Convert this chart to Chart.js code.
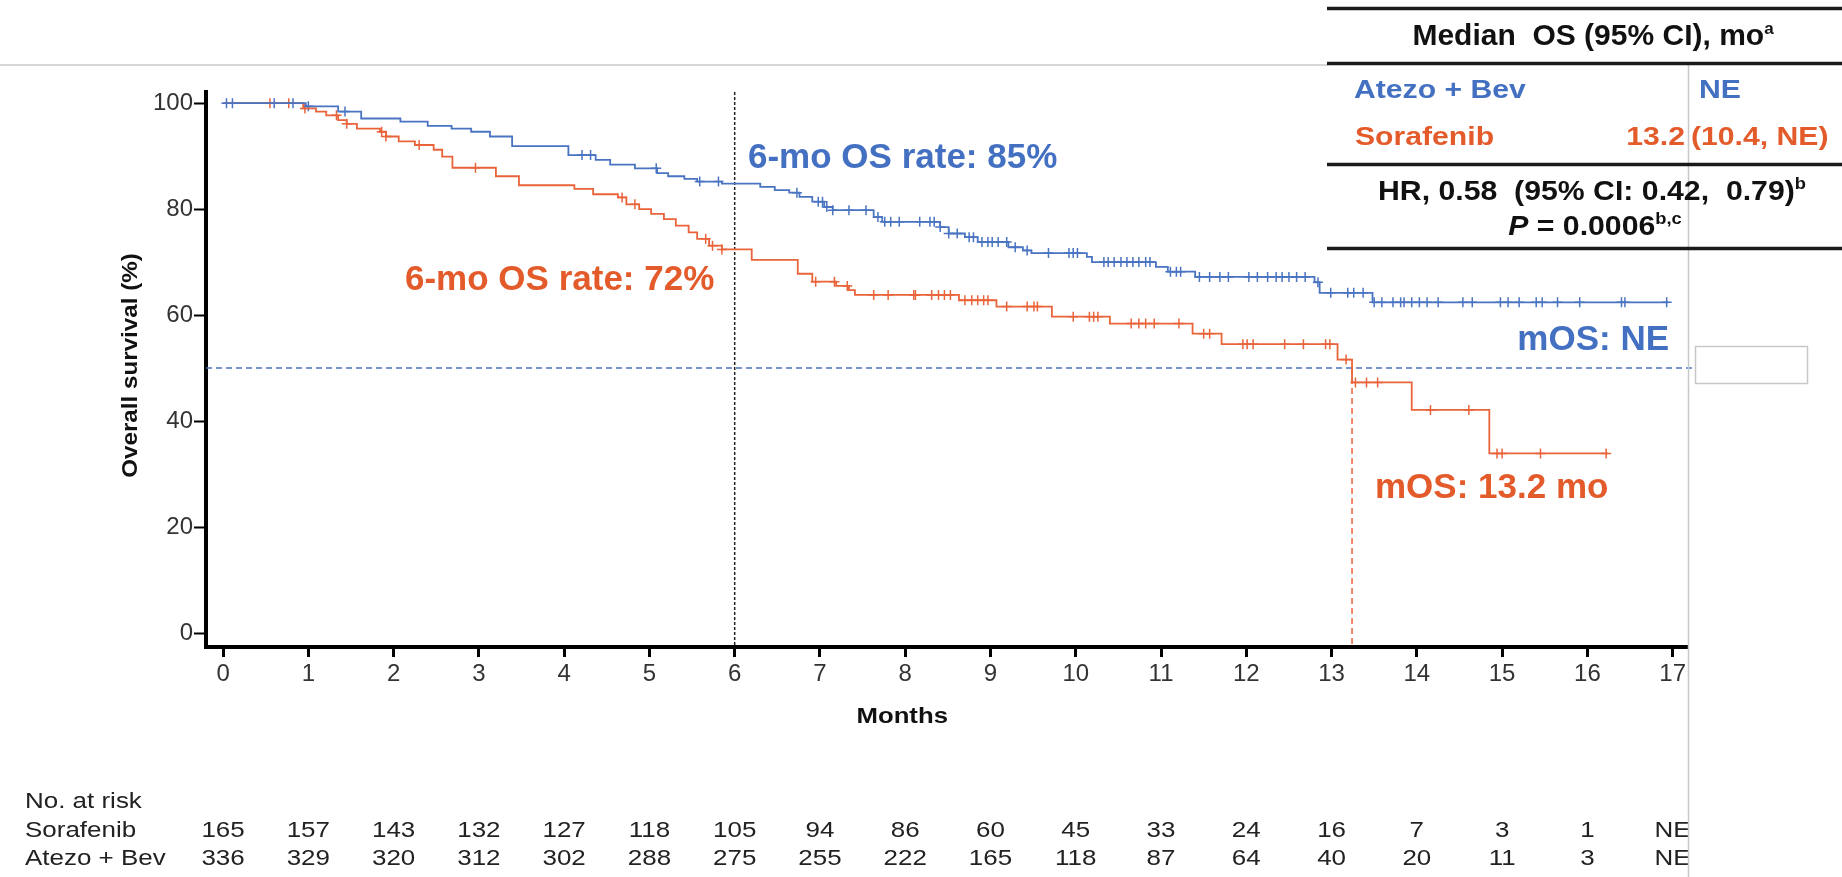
<!DOCTYPE html>
<html>
<head>
<meta charset="utf-8">
<title>Overall survival</title>
<script src="https://cdn.jsdelivr.net/npm/chart.js@4.4.1/dist/chart.umd.min.js"></script>
<style>
  html, body { margin: 0; padding: 0; background: #fff; }
  #wrap { width: 1842px; height: 877px; position: relative; }
</style>
</head>
<body>
<div id="wrap"><canvas id="osChart" width="1842" height="877"></canvas></div>
<script>
// ---- data ----
const monthTicks = [0, 1, 2, 3, 4, 5, 6, 7, 8, 9, 10, 11, 12, 13, 14, 15, 16, 17];
const survivalTicks = [0, 20, 40, 60, 80, 100];

// Atezo + Bev: time of each step (months) and survival after it (%)
const atezoTimes = [0, 0.97, 1.35, 1.62, 2.08, 2.40, 2.68, 2.91, 3.13, 3.39, 4.05, 4.37, 4.54, 4.83, 5.09, 5.22, 5.41, 5.56, 5.85,
    6.30, 6.47, 6.64, 6.76, 6.91, 7.05, 7.15, 7.63, 7.73, 8.41, 8.51, 8.70, 8.85, 9.21, 9.38, 9.48, 10.13, 10.19, 10.94, 11.08,
    11.40, 12.80, 12.86, 13.48, 16.95];
const atezoSurv = [100, 99.4, 98.4, 97.1, 96.5, 95.7, 95.2, 94.6, 93.7, 91.9, 90.2, 89.3, 88.4, 87.7, 86.8, 86.2, 85.7, 85.2, 84.8,
    84.2, 83.6, 83.1, 82.3, 81.4, 80.4, 79.8, 78.5, 77.6, 76.6, 75.4, 74.7, 73.8, 72.8, 72.2, 71.7, 71.0, 70.0, 69.1, 68.2,
    67.2, 66.2, 64.2, 62.4, 62.4];

// Sorafenib
const sorafenibTimes = [0, 0.94, 1.09, 1.21, 1.35, 1.45, 1.57, 1.84, 1.91, 2.06, 2.25, 2.47, 2.57, 2.69, 3.20, 3.47, 4.12, 4.34,
    4.63, 4.73, 4.88, 5.02, 5.17, 5.31, 5.46, 5.56, 5.70, 5.85, 6.20, 6.74, 6.91, 7.19, 7.34, 7.41, 8.63, 9.07, 9.72, 10.40,
    11.37, 11.71, 13.07, 13.24, 13.94, 14.85, 16.24];
const sorafenibSurv = [100, 99.0, 98.4, 97.7, 96.8, 96.1, 95.2, 94.6, 93.7, 92.8, 92.1, 91.2, 89.9, 87.8, 86.2, 84.5, 83.8, 82.8,
    82.2, 80.9, 80.0, 79.1, 78.1, 76.9, 75.6, 74.4, 73.1, 72.4, 70.4, 67.8, 66.3, 65.5, 64.7, 63.8, 62.8, 61.6, 59.7, 58.4,
    56.5, 54.5, 51.6, 47.3, 42.1, 33.9, 33.9];

// censored patients (months)
const atezoCensored = [0.04, 0.11, 0.60, 0.82, 1.00, 1.43, 4.21, 4.31, 5.08, 5.59, 5.81, 6.73, 6.98, 7.03, 7.08, 7.15, 7.34,
    7.54, 7.68, 7.76, 7.83, 7.93, 8.17, 8.29, 8.34, 8.41, 8.51, 8.61, 8.75, 8.80, 8.90, 8.97, 9.02, 9.09, 9.19, 9.29, 9.43,
    9.68, 9.92, 9.97, 10.02, 10.33, 10.38, 10.45, 10.53, 10.60, 10.67, 10.74, 10.82, 10.87, 11.11, 11.18, 11.23, 11.45, 11.57,
    11.69, 11.79, 12.03, 12.13, 12.25, 12.35, 12.42, 12.50, 12.59, 12.69, 12.84, 12.99, 13.19, 13.26, 13.37, 13.50, 13.59,
    13.72, 13.81, 13.85, 13.94, 14.03, 14.12, 14.25, 14.54, 14.65, 14.98, 15.07, 15.20, 15.40, 15.47, 15.65, 15.91, 16.40,
    16.44, 16.93];
const sorafenibCensored = [0.55, 0.77, 0.96, 1.33, 1.45, 1.86, 1.91, 2.30, 2.96, 4.68, 4.83, 5.66, 5.74, 5.85, 6.95, 7.17, 7.32,
    7.63, 7.80, 8.10, 8.12, 8.31, 8.39, 8.46, 8.53, 8.70, 8.78, 8.85, 8.92, 8.97, 9.19, 9.43, 9.51, 9.55, 9.97, 10.16, 10.21,
    10.26, 10.65, 10.74, 10.82, 10.92, 11.21, 11.50, 11.57, 11.96, 12.01, 12.08, 12.45, 12.67, 12.93, 12.98, 13.17, 13.28,
    13.41, 13.54, 14.16, 14.61, 14.94, 15.00, 15.45, 16.22];

// number at risk under each month tick
const sorafenibAtRisk = [165, 157, 143, 132, 127, 118, 105, 94, 86, 60, 45, 33, 24, 16, 7, 3, 1, "NE"];
const atezoAtRisk = [336, 329, 320, 312, 302, 288, 275, 255, 222, 165, 118, 87, 64, 40, 20, 11, 3, "NE"];

// reference values
const landmarkMonth = 6;
const medianSurvival = 50;
const sorafenibMedian = 13.24;

const FONT = "'Liberation Sans', Arial, sans-serif";
const BLUE = "#4a74c2";
const ORANGE = "#e9643a";
const BLUE_TEXT = "#4470c2";
const ORANGE_TEXT = "#e45b2b";

const xMin = -0.2, xMax = 17.18;
const yMin = -2.64, yMax = 102.1;

// step lookup: survival level at a censoring time
function survivalAt(times, surv, t) {
    let s = surv[0];
    for (let i = 0; i < times.length; i++) {
        if (times[i] <= t) s = surv[i];
    }
    return s;
}

function toPoints(times, surv) {
    return times.map((t, i) => ({ x: t, y: surv[i] }));
}

function censorPoints(censored, times, surv) {
    return censored.map(t => ({ x: t, y: survivalAt(times, surv, t) }));
}

// draws a run of text pieces (for superscripts), optionally stretched horizontally
function drawRuns(ctx, runs, x, y, align, sx) {
    sx = sx || 1;
    let widths = runs.map(r => { ctx.font = r.font; return ctx.measureText(r.text).width; });
    let total = widths.reduce((a, b) => a + b, 0) * sx;
    let start = align === "center" ? x - total / 2 : align === "right" ? x - total : x;
    ctx.save();
    ctx.translate(start, y);
    ctx.scale(sx, 1);
    ctx.textBaseline = "middle";
    ctx.textAlign = "left";
    let cx = 0;
    runs.forEach((r, i) => {
        ctx.font = r.font;
        ctx.fillStyle = r.color;
        ctx.fillText(r.text, cx, r.dy || 0);
        cx += widths[i];
    });
    ctx.restore();
}

function text(ctx, str, x, y, font, color, align, sx) {
    drawRuns(ctx, [{ text: str, font: font, color: color }], x, y, align, sx);
}

function hLine(ctx, x1, x2, y, color, width) {
    ctx.save();
    ctx.strokeStyle = color;
    ctx.lineWidth = width;
    ctx.beginPath();
    ctx.moveTo(x1, y);
    ctx.lineTo(x2, y);
    ctx.stroke();
    ctx.restore();
}

function vLine(ctx, x, y1, y2, color, width) {
    ctx.save();
    ctx.strokeStyle = color;
    ctx.lineWidth = width;
    ctx.beginPath();
    ctx.moveTo(x, y1);
    ctx.lineTo(x, y2);
    ctx.stroke();
    ctx.restore();
}

const decorPlugin = {
    id: "decor",
    beforeDatasetsDraw(chart) {
        const ctx = chart.ctx;
        const xs = chart.scales.x;
        const area = chart.chartArea;

        // axis titles
        text(ctx, "Months", xs.getPixelForValue(8) - 3, 717, "bold 22px " + FONT, "#111", "center", 1.17);
        ctx.save();
        ctx.translate(131, (area.top + area.bottom) / 2 - 4);
        ctx.rotate(-Math.PI / 2);
        text(ctx, "Overall survival (%)", 0, 0, "bold 22px " + FONT, "#111", "center", 1.1);
        ctx.restore();

        // number at risk table
        const rf = "22px " + FONT;
        text(ctx, "No. at risk", 25, 802, rf, "#222", "left", 1.18);
        text(ctx, "Sorafenib", 25, 831, rf, "#222", "left", 1.18);
        text(ctx, "Atezo + Bev", 25, 859, rf, "#222", "left", 1.18);
        monthTicks.forEach((m, i) => {
            const px = xs.getPixelForValue(m);
            text(ctx, String(sorafenibAtRisk[i]), px, 831, rf, "#222", "center", 1.18);
            text(ctx, String(atezoAtRisk[i]), px, 859, rf, "#222", "center", 1.18);
        });

        // blank panel on the right of the slide
        ctx.save();
        ctx.fillStyle = "#fff";
        ctx.fillRect(area.right + 1, 66, chart.width - area.right - 1, chart.height - 66);
        ctx.restore();
    },
    afterDraw(chart) {
        const ctx = chart.ctx;
        const area = chart.chartArea;

        // light slide rules
        hLine(ctx, 0, 1327, 65, "#c8c8c8", 1.5);
        vLine(ctx, area.right + 0.5, 64, chart.height, "#c8c8c8", 1.5);

        // empty box at the end of the median line
        ctx.save();
        ctx.strokeStyle = "#c8c8c8";
        ctx.lineWidth = 1.5;
        ctx.strokeRect(1695.5, 346.5, 112, 37);
        ctx.restore();

        // annotations
        const big = "bold 35px " + FONT;
        text(ctx, "6-mo OS rate: 85%", 748, 158, big, BLUE_TEXT, "left");
        text(ctx, "6-mo OS rate: 72%", 405, 280, big, ORANGE_TEXT, "left");
        text(ctx, "mOS: NE", 1669, 340, big, BLUE_TEXT, "right");
        text(ctx, "mOS: 13.2 mo", 1375, 488, big, ORANGE_TEXT, "left");

        // median OS table
        const tl = 1327, tr = chart.width;
        hLine(ctx, tl, tr, 8.5, "#1a1a1a", 3.5);
        hLine(ctx, tl, tr, 63.5, "#1a1a1a", 3.5);
        hLine(ctx, tl, tr, 164.5, "#1a1a1a", 3.5);
        hLine(ctx, tl, tr, 248.5, "#1a1a1a", 3.5);

        const hf = "bold 30px " + FONT;
        const sup = "bold 17px " + FONT;
        drawRuns(ctx, [
            { text: "Median  OS (95% CI), mo", font: hf, color: "#111" },
            { text: "a", font: sup, color: "#111", dy: -8 }
        ], 1593, 37, "center", 1.0);

        const rowF = "bold 26px " + FONT;
        text(ctx, "Atezo + Bev", 1354, 91, rowF, BLUE_TEXT, "left", 1.16);
        text(ctx, "NE", 1699, 91, rowF, BLUE_TEXT, "left", 1.16);
        text(ctx, "Sorafenib", 1355, 138, rowF, ORANGE_TEXT, "left", 1.16);
        text(ctx, "13.2", 1685, 138, rowF, ORANGE_TEXT, "right", 1.16);
        text(ctx, "(10.4, NE)", 1691, 138, rowF, ORANGE_TEXT, "left", 1.16);

        const sf = "bold 28px " + FONT;
        drawRuns(ctx, [
            { text: "HR, 0.58  (95% CI: 0.42,  0.79)", font: sf, color: "#111" },
            { text: "b", font: sup, color: "#111", dy: -8 }
        ], 1592, 192, "center", 1.08);
        drawRuns(ctx, [
            { text: "P", font: "italic bold 28px " + FONT, color: "#111" },
            { text: " = 0.0006", font: sf, color: "#111" },
            { text: "b,c", font: sup, color: "#111", dy: -8 }
        ], 1595, 227, "center", 1.08);
    }
};

const ctx = document.getElementById("osChart").getContext("2d");

new Chart(ctx, {
    type: "scatter",
    data: {
        datasets: [
            {
                label: "Atezo + Bev",
                data: toPoints(atezoTimes, atezoSurv),
                showLine: true,
                stepped: "before",
                borderColor: BLUE,
                borderWidth: 1.8,
                pointRadius: 0
            },
            {
                label: "Sorafenib",
                data: toPoints(sorafenibTimes, sorafenibSurv),
                showLine: true,
                stepped: "before",
                borderColor: ORANGE,
                borderWidth: 1.8,
                pointRadius: 0
            },
            {
                label: "Atezo + Bev censored",
                data: censorPoints(atezoCensored, atezoTimes, atezoSurv),
                pointStyle: "cross",
                pointRadius: 5,
                pointBorderWidth: 1.5,
                borderColor: BLUE,
                backgroundColor: BLUE
            },
            {
                label: "Sorafenib censored",
                data: censorPoints(sorafenibCensored, sorafenibTimes, sorafenibSurv),
                pointStyle: "cross",
                pointRadius: 5,
                pointBorderWidth: 1.5,
                borderColor: ORANGE,
                backgroundColor: ORANGE
            },
            {
                label: "6-month landmark",
                data: [{ x: landmarkMonth, y: yMax }, { x: landmarkMonth, y: yMin }],
                showLine: true,
                borderColor: "#222",
                borderWidth: 1.5,
                borderDash: [3, 2],
                pointRadius: 0
            },
            {
                label: "Median",
                data: [{ x: xMin, y: medianSurvival }, { x: 17.25, y: medianSurvival }],
                showLine: true,
                clip: false,
                borderColor: BLUE,
                borderWidth: 1.5,
                borderDash: [6, 4],
                pointRadius: 0
            },
            {
                label: "Sorafenib median",
                data: [{ x: sorafenibMedian, y: medianSurvival }, { x: sorafenibMedian, y: yMin }],
                showLine: true,
                borderColor: ORANGE,
                borderWidth: 1.5,
                borderDash: [6, 4],
                pointRadius: 0
            }
        ]
    },
    options: {
        responsive: false,
        animation: false,
        events: [],
        layout: { padding: { left: 0, top: 92, right: 154, bottom: 0 } },
        plugins: {
            legend: { display: false },
            tooltip: { enabled: false }
        },
        scales: {
            x: {
                type: "linear",
                min: xMin,
                max: xMax,
                afterBuildTicks: axis => { axis.ticks = monthTicks.map(v => ({ value: v })); },
                afterFit: scale => { scale.height = 230; },
                border: { display: true, color: "#000", width: 4 },
                grid: { drawOnChartArea: false, drawTicks: true, tickLength: 10, tickWidth: 3, tickColor: "#000" },
                ticks: { color: "#333", font: { family: FONT, size: 24 }, padding: 3, maxRotation: 0, autoSkip: false }
            },
            y: {
                type: "linear",
                min: yMin,
                max: yMax,
                afterBuildTicks: axis => { axis.ticks = survivalTicks.map(v => ({ value: v })); },
                afterFit: scale => { scale.width = 206; },
                border: { display: true, color: "#000", width: 4 },
                grid: { drawOnChartArea: false, drawTicks: true, tickLength: 12, tickWidth: 2, tickColor: "#000" },
                ticks: { color: "#333", font: { family: FONT, size: 24 }, padding: 1 }
            }
        }
    },
    plugins: [decorPlugin]
});
</script>
</body>
</html>
